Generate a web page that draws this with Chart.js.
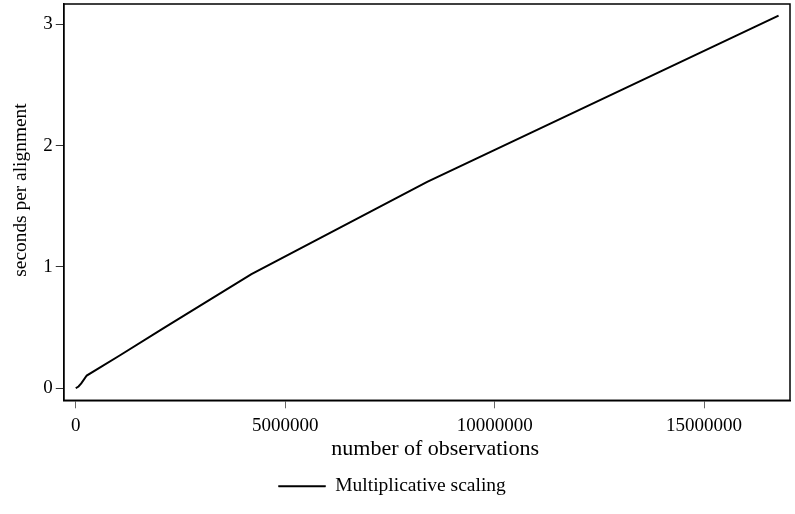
<!DOCTYPE html>
<html><head><meta charset="utf-8">
<script src="https://cdn.jsdelivr.net/npm/chart.js@4/dist/chart.umd.min.js"></script>
<style>html,body{margin:0;padding:0;background:#fff}#wrap{width:795px;height:514px}</style>
</head><body><div id="wrap"><canvas id="c"></canvas></div>
<script>
const observations = [0, 65536, 131072, 262144, 524288, 1048576, 2097152, 4194304, 8388608, 16777216];
const secondsPerAlignment = [0, 0.015, 0.04, 0.105, 0.16, 0.27, 0.495, 0.94, 1.70, 3.07];
const xTickValues = [0, 5000000, 10000000, 15000000];
const yTickValues = [0, 1, 2, 3];
const seriesLabel = 'Multiplicative scaling';

const FONT = '"Liberation Serif", "Times New Roman", serif';
const FS = 19;
const frame = {
  id: 'frame',
  afterDatasetsDraw(chart) {
    const a = chart.chartArea, ctx = chart.ctx;
    ctx.save(); ctx.strokeStyle = '#000'; ctx.lineWidth = 1.5;
    ctx.strokeRect(a.left, a.top, a.right - a.left, a.bottom - a.top);
    ctx.restore();
  }
};
new Chart(document.getElementById('c'), {
  type: 'scatter',
  data: { datasets: [{
    label: seriesLabel,
    data: observations.map((x, i) => ({x, y: secondsPerAlignment[i]})),
    showLine: true, borderColor: '#000', backgroundColor: '#000', borderWidth: 2,
    pointRadius: 0, tension: 0
  }]},
  options: {
    responsive: true, maintainAspectRatio: false, animation: false,
    layout: { padding: { left: 9, right: 5, top: 4, bottom: 8 } },
    plugins: {
      tooltip: { enabled: false },
      legend: { position: 'bottom', labels: {
        color: '#000', font: { family: FONT, size: 19.5 }, boxWidth: 47, boxHeight: 1.5, padding: 10,
        generateLabels: chart => Chart.defaults.plugins.legend.labels.generateLabels(chart).map(it => Object.assign(it, {text: it.text + '   ', lineWidth: 0.5, strokeStyle: '#000', fillStyle: '#000'}))
      } }
    },
    scales: {
      x: {
        type: 'linear', min: -286000, max: 17050000,
        afterBuildTicks: s => { s.ticks = xTickValues.map(v => ({value: v})); },
        ticks: { color: '#000', font: { family: FONT, size: FS }, padding: 6, maxRotation: 0, callback: v => String(v) },
        grid: { drawOnChartArea: false, drawTicks: true, tickLength: 8, color: '#666' },
        border: { display: true, color: '#000', width: 1.5 },
        title: { display: true, text: '   number of observations', color: '#000', font: { family: FONT, size: 22 }, padding: { top: -7, bottom: 4 } }
      },
      y: {
        type: 'linear', min: -0.099, max: 3.166,
        afterBuildTicks: s => { s.ticks = yTickValues.map(v => ({value: v})); },
        afterFit: s => { s.paddingTop = 0; s.paddingBottom = 0; },
        ticks: { color: '#000', font: { family: FONT, size: FS }, padding: 3, callback: v => String(v) },
        grid: { drawOnChartArea: false, drawTicks: true, tickLength: 8, color: '#333' },
        border: { display: true, color: '#000', width: 1.5 },
        title: { display: true, text: '     seconds per alignment', color: '#000', font: { family: FONT, size: 19.4 }, padding: { top: 0, bottom: 8 } }
      }
    }
  },
  plugins: [frame]
});
</script></body></html>
